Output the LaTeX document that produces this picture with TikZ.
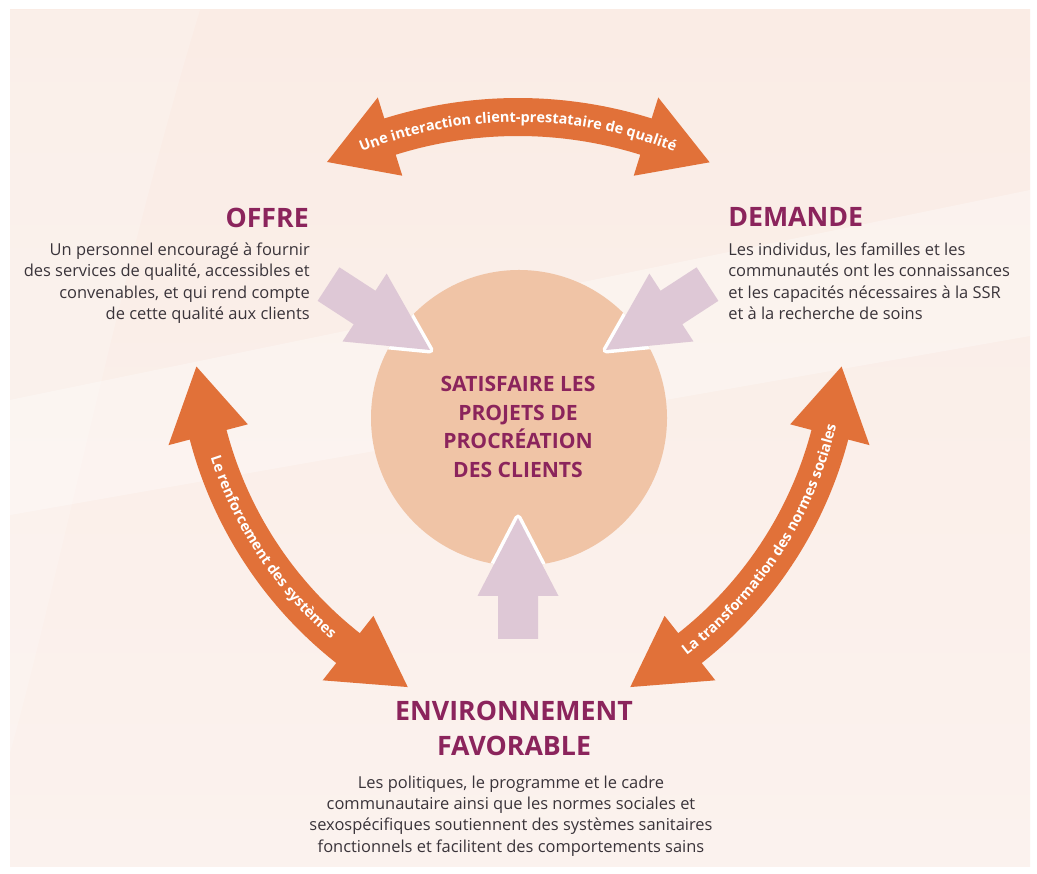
\documentclass[tikz,border=0pt]{standalone}
\usepackage{fontspec}
\setmainfont{Open Sans}
\usetikzlibrary{decorations.text}

\definecolor{bgpeach}{RGB}{250,236,229}
\definecolor{bgpale}{RGB}{251,242,238}
\definecolor{disc}{RGB}{240,196,166}
\definecolor{lilac}{RGB}{222,200,214}
\definecolor{orangeband}{RGB}{225,113,57}
\definecolor{plum}{RGB}{139,36,92}
\definecolor{bodytext}{RGB}{58,52,58}

\newcommand\titlefont{\fontsize{19}{25}\selectfont\bfseries}
\newcommand\bodyfont{\fontsize{11.7}{15}\selectfont}
\newcommand\goalfont{\fontsize{15}{20.3}\selectfont\bfseries}
\newcommand\arrowlabel{\fontsize{10.3}{12}\selectfont\bfseries\color{white}}

\tikzset{
  heading/.style={text=plum, font=\titlefont, inner sep=0pt},
  bodytxt/.style={text=bodytext, font=\bodyfont, inner sep=0pt},
  bandlabel/.style={decorate, decoration={text along path, text align=center,
      text={|\arrowlabel|#1}}}
}

% outline of a straight block arrow, tip at the origin, pointing along +x
\newcommand\blockoutline{(0,0) -- (-78,40.5) -- (-78,20) -- (-121,20)
      -- (-121,-20) -- (-78,-20) -- (-78,-40.5) -- cycle}

% block arrow with tip at #1 pointing towards angle #2;
% a white rim separates it from the disc only where it overlaps the disc
\newcommand\blockarrow[2]{%
  \begin{scope}
    \clip (519,455) circle (105.25pt);
    \draw[white, line width=5pt, line join=round, shift={#1}, rotate=#2] \blockoutline;
  \end{scope}
  \fill[lilac, shift={#1}, rotate=#2] \blockoutline;}

% curved double arrow around centre #1, radius #2,
% band between angles #3 and #4, tips at angles #5 and #6
\newcommand\bandarrow[6]{%
  \begin{scope}[shift={#1}]
    \fill[orangeband] plot[domain=#3:#4, samples=50] (\x:{#2+19})
      -- (#4:{#2+41}) -- (#6:#2) -- (#4:{#2-41})
      -- plot[domain=#4:#3, samples=50] (\x:{#2-19})
      -- (#3:{#2-41}) -- (#5:#2) -- (#3:{#2+41}) -- cycle;
  \end{scope}}

\begin{document}
\begin{tikzpicture}[x=0.025cm, y=0.025cm]
\useasboundingbox (0,0) rectangle (1037,873);

% backdrop
\fill[white] (0,0) rectangle (1037,873);
\shade[top color=bgpeach, bottom color=bgpale] (10,7) rectangle (1030,863);
\begin{scope}
  \clip (10,7) rectangle (1030,863);
  \fill[white, opacity=0.3] (10,358) -- (1030,537) -- (1030,683) -- (10,473) -- cycle;
  \fill[white, opacity=0.18] (200,863) .. controls (120,600) and (60,300) .. (10,120)
    -- (10,863) -- cycle;
\end{scope}

% central goal
\node (goal) [circle, fill=disc, minimum size=210.5pt, inner sep=0pt] at (519,455) {};

% arrows feeding the goal
\blockarrow{(430,523)}{-33}
\blockarrow{(606,523)}{213}
\blockarrow{(518,355)}{90}

% curved double arrows
\bandarrow{(518,328)}{428}{107.4}{72.6}{116.5}{63.4}
\bandarrow{(596,540)}{401}{194.7}{231.8}{184.8}{242}
\bandarrow{(442,540)}{401}{-51.8}{-14.7}{-62}{-4.8}

% labels along the curved arrows
\begin{scope}[shift={(518,328)}]
  \path[bandlabel={Une interaction client-prestataire de qualité}]
    plot[domain=125:55, samples=100] (\x:423);
\end{scope}
\begin{scope}[shift={(596,540)}]
  \path[bandlabel={Le renforcement des systèmes}]
    plot[domain=185:242, samples=100] (\x:405);
\end{scope}
\begin{scope}[shift={(442,540)}]
  \path[bandlabel={La transformation des normes sociales}]
    plot[domain=-60:-6, samples=100] (\x:405);
\end{scope}

% goal text
\node (goaltext) [text=plum, font=\goalfont, align=center, inner sep=0pt] at (518,446)
  {SATISFAIRE LES\\PROJETS DE\\PROCRÉATION\\DES CLIENTS};

% supply
\node (offre) [heading, anchor=base east] at (309,645) {OFFRE};
\node (offretext) [bodytxt, align=right, anchor=north east] at (310,630)
  {Un personnel encouragé à fournir\\des services de qualité, accessibles et\\convenables, et qui rend compte\\de cette qualité aux clients};

% demand
\node (demande) [heading, anchor=base west] at (728,646) {DEMANDE};
\node (demandetext) [bodytxt, align=left, anchor=north west] at (728,630)
  {Les individus, les familles et les\\communautés ont les connaissances\\et les capacités nécessaires à la SSR\\et à la recherche de soins};

% enabling environment
\node (env) [heading, align=center, anchor=north] at (514,172)
  {ENVIRONNEMENT\\FAVORABLE};
\node (envtext) [bodytxt, align=center, anchor=north] at (511,97)
  {Les politiques, le programme et le cadre\\communautaire ainsi que les normes sociales et\\sexospécifiques soutiennent des systèmes sanitaires\\fonctionnels et facilitent des comportements sains};
\end{tikzpicture}
\end{document}
